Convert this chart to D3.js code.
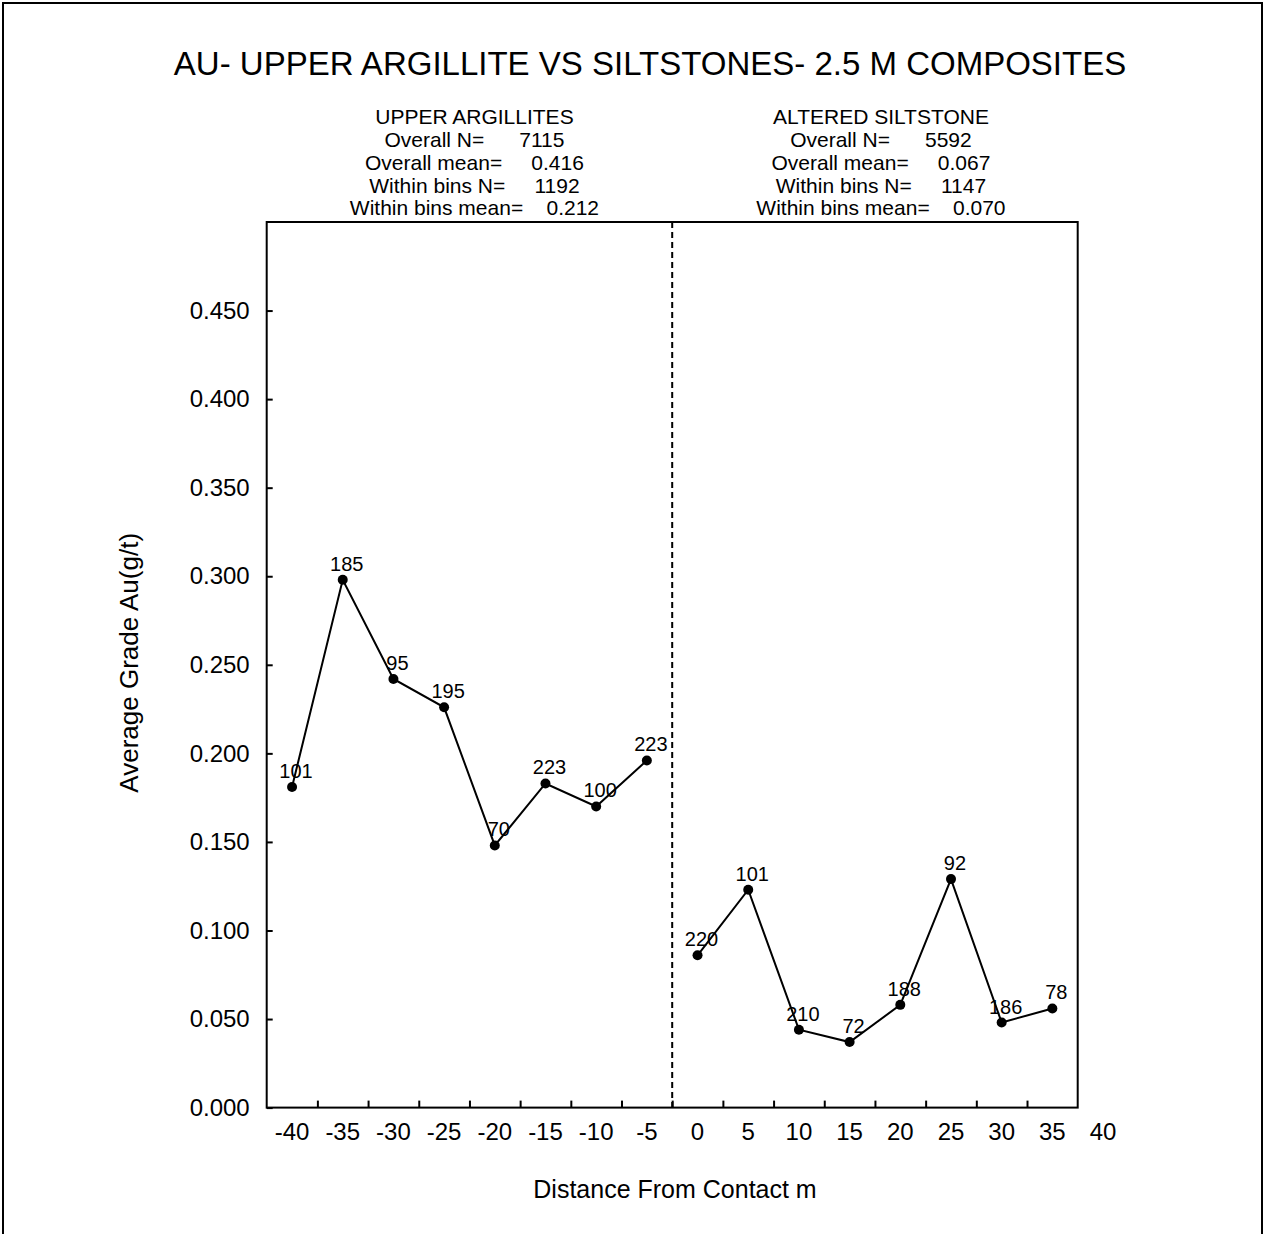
<!DOCTYPE html>
<html>
<head>
<meta charset="utf-8">
<script src="https://cdn.jsdelivr.net/npm/d3@7"></script>
<style>
  body { margin: 0; background: #fff; }
  text { font-family: "Liberation Sans", Arial, sans-serif; fill: #000; }
</style>
</head>
<body>
<svg id="chart"></svg>
<script>
// chart data
var chartTitle = "AU- UPPER ARGILLITE VS SILTSTONES- 2.5 M COMPOSITES";
var xTitle = "Distance From Contact m";
var yTitle = "Average Grade Au(g/t)";

var xTickLabels = [-40, -35, -30, -25, -20, -15, -10, -5, 0, 5, 10, 15, 20, 25, 30, 35, 40];
var yTickValues = [0, 0.05, 0.1, 0.15, 0.2, 0.25, 0.3, 0.35, 0.4, 0.45];

var leftName = "UPPER ARGILLITES";
var leftStats = [["Overall N=", "7115"], ["Overall mean=", "0.416"], ["Within bins N=", "1192"], ["Within bins mean=", "0.212"]];
var leftDist = [-40, -35, -30, -25, -20, -15, -10, -5];
var leftGrade = [0.181, 0.298, 0.242, 0.226, 0.148, 0.183, 0.170, 0.196];
var leftCount = [101, 185, 95, 195, 70, 223, 100, 223];

var rightName = "ALTERED SILTSTONE";
var rightStats = [["Overall N=", "5592"], ["Overall mean=", "0.067"], ["Within bins N=", "1147"], ["Within bins mean=", "0.070"]];
var rightDist = [0, 5, 10, 15, 20, 25, 30, 35];
var rightGrade = [0.086, 0.123, 0.044, 0.037, 0.058, 0.129, 0.048, 0.056];
var rightCount = [220, 101, 210, 72, 188, 92, 186, 78];

var contactAt = -2.5;

var W = 1265, H = 1234;
var plot = { left: 266.7, right: 1077.7, top: 222, bottom: 1107.6 };

var svg = d3.select("#chart").attr("width", W).attr("height", H);

// outer frame (bottom edge runs off the page)
svg.append("rect")
  .attr("x", 3).attr("y", 3)
  .attr("width", 1259).attr("height", 1260)
  .attr("fill", "none").attr("stroke", "#000").attr("stroke-width", 2);

var xScale = d3.scaleLinear().domain([-42.5, 37.5]).range([plot.left, plot.right]);
var yScale = d3.scaleLinear().domain([0, 0.5]).range([plot.bottom, plot.top]);

// title
svg.append("text")
  .attr("x", 650).attr("y", 75)
  .attr("text-anchor", "middle")
  .style("font-size", "33px")
  .text(chartTitle);

// header blocks above each half
function drawHeader(name, stats, cx){
  svg.append("text")
    .attr("x", cx).attr("y", 124)
    .attr("text-anchor", "middle")
    .style("font-size", "21px")
    .text(name);

  var pad = ["      ", "     ", "     ", "    "];
  stats.forEach(function(s, i){
    svg.append("text")
      .attr("x", cx).attr("y", 147.3 + i * 22.7)
      .attr("text-anchor", "middle")
      .style("font-size", "21px")
      .style("white-space", "pre")
      .text(s[0] + pad[i] + s[1]);
  });
}

drawHeader(leftName, leftStats, (xScale(-42.5) + xScale(contactAt)) / 2 + 5);
drawHeader(rightName, rightStats, (xScale(contactAt) + xScale(37.5)) / 2 + 6);

// plot frame
svg.append("rect")
  .attr("x", plot.left).attr("y", plot.top)
  .attr("width", plot.right - plot.left).attr("height", plot.bottom - plot.top)
  .attr("fill", "none").attr("stroke", "#000").attr("stroke-width", 2);

// x axis: ticks on bin edges, labels at bin centres
var xEdges = d3.range(-37.5, 37.5, 5);
var xAxis = d3.axisBottom(xScale).tickValues(xEdges).tickSize(-7).tickFormat("");
var gx = svg.append("g")
  .attr("transform", "translate(0," + plot.bottom + ")")
  .call(xAxis);
gx.select(".domain").remove();
gx.selectAll("line").attr("stroke-width", 2);

svg.selectAll(".xlabel")
  .data(xTickLabels)
  .enter()
  .append("text")
  .attr("class", "xlabel")
  .attr("x", function(d){ return xScale(d); })
  .attr("y", 1139.5)
  .attr("text-anchor", "middle")
  .style("font-size", "24px")
  .text(function(d){ return d; });

// y axis
var yAxis = d3.axisLeft(yScale).tickValues(yTickValues).tickSize(-6).tickPadding(17).tickFormat(d3.format(".3f"));
var gy = svg.append("g")
  .attr("transform", "translate(" + plot.left + ",0)")
  .call(yAxis);
gy.select(".domain").remove();
gy.selectAll("line").attr("stroke-width", 2);
gy.selectAll("text")
  .style("font-size", "24px")
  .style("font-family", "'Liberation Sans', Arial, sans-serif");

// axis titles
svg.append("text")
  .attr("x", 675).attr("y", 1198)
  .attr("text-anchor", "middle")
  .style("font-size", "25px")
  .text(xTitle);

svg.append("text")
  .attr("transform", "translate(138," + ((plot.top + plot.bottom) / 2 - 2) + ") rotate(-90)")
  .attr("text-anchor", "middle")
  .style("font-size", "26px")
  .text(yTitle);

// contact line
svg.append("line")
  .attr("x1", xScale(contactAt)).attr("x2", xScale(contactAt))
  .attr("y1", plot.top).attr("y2", plot.bottom)
  .attr("stroke", "#000").attr("stroke-width", 2)
  .attr("stroke-dasharray", "6,4");

// series
var line = d3.line()
  .x(function(d){ return xScale(d.x); })
  .y(function(d){ return yScale(d.y); });

function drawSeries(dist, grade, count){
  var pts = dist.map(function(d, i){ return { x: d, y: grade[i], n: count[i] }; });

  svg.append("path")
    .datum(pts)
    .attr("d", line)
    .attr("fill", "none")
    .attr("stroke", "#000")
    .attr("stroke-width", 2);

  svg.append("g").selectAll("circle")
    .data(pts)
    .enter()
    .append("circle")
    .attr("cx", function(d){ return xScale(d.x); })
    .attr("cy", function(d){ return yScale(d.y); })
    .attr("r", 5)
    .attr("fill", "#000");

  svg.append("g").selectAll("text")
    .data(pts)
    .enter()
    .append("text")
    .attr("x", function(d){ return xScale(d.x) + 4; })
    .attr("y", function(d){ return yScale(d.y) - 9; })
    .attr("text-anchor", "middle")
    .style("font-size", "20px")
    .text(function(d){ return d.n; });
}

drawSeries(leftDist, leftGrade, leftCount);
drawSeries(rightDist, rightGrade, rightCount);
</script>
</body>
</html>
